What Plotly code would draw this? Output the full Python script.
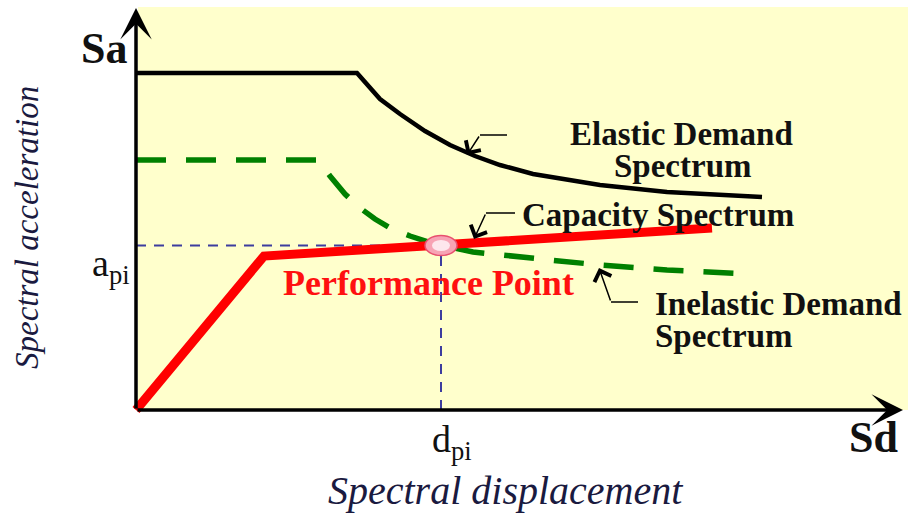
import plotly.graph_objects as go

# ---- data (Sd, Sa in arbitrary units) ----
elastic_sd = [0, 2.21, 2.44, 2.64, 2.89, 3.14, 3.39, 3.64, 3.97, 4.64, 5.31, 6.26]
elastic_sa = [3.37, 3.37, 3.11, 2.96, 2.79, 2.65, 2.54, 2.45, 2.36, 2.25, 2.18, 2.13]

inelastic_sd = [0, 1.82, 1.94, 2.09, 2.24, 2.39, 2.54, 2.74, 2.99, 3.37, 4.14, 4.64, 5.31, 6.14]
inelastic_sa = [2.50, 2.50, 2.34, 2.16, 2.02, 1.91, 1.82, 1.74, 1.66, 1.58, 1.50, 1.45, 1.40, 1.36]

capacity_sd = [0, 1.28, 5.76]
capacity_sa = [0, 1.54, 1.82]

perf_sd = 3.05
perf_sa = 1.645

axis_max_sd = 7.67
axis_max_sa = 4.02

FONT = "Liberation Serif, DejaVu Serif, serif"

fig = go.Figure()

# guide lines to performance point
fig.add_trace(go.Scatter(x=[0, perf_sd], y=[perf_sa, perf_sa], mode="lines",
                         line=dict(color="#3d3d9e", width=2, dash="10px,8px"), hoverinfo="skip"))
fig.add_trace(go.Scatter(x=[perf_sd, perf_sd], y=[0, perf_sa], mode="lines",
                         line=dict(color="#3d3d9e", width=2, dash="10px,8px"), hoverinfo="skip"))

fig.add_trace(go.Scatter(x=elastic_sd, y=elastic_sa, mode="lines",
                         line=dict(color="#000000", width=4.5), hoverinfo="skip"))
fig.add_trace(go.Scatter(x=inelastic_sd, y=inelastic_sa, mode="lines",
                         line=dict(color="#008000", width=5.5, dash="30px,20px"), hoverinfo="skip"))
fig.add_trace(go.Scatter(x=capacity_sd, y=capacity_sa, mode="lines",
                         line=dict(color="#ff0000", width=9), hoverinfo="skip"))

shapes = [
    dict(type="rect", xref="x", yref="y", x0=0.02, x1=7.75, y0=0, y1=4.03,
         fillcolor="#ffffcc", line=dict(width=0), layer="below"),
    # performance point
    dict(type="circle", xref="x", yref="y", x0=perf_sd - 0.16, x1=perf_sd + 0.16,
         y0=perf_sa - 0.10, y1=perf_sa + 0.10, fillcolor="#f7a3b4",
         line=dict(color="#e8506e", width=1.5)),
    dict(type="circle", xref="x", yref="y", x0=perf_sd - 0.09, x1=perf_sd + 0.09,
         y0=perf_sa - 0.055, y1=perf_sa + 0.055, fillcolor="#fde6ec",
         line=dict(width=0)),
    # callout horizontal segments
    dict(type="line", xref="x", yref="y", x0=3.71, x1=3.44, y0=2.75, y1=2.75,
         line=dict(color="#000", width=1.5)),
    dict(type="line", xref="x", yref="y", x0=3.79, x1=3.50, y0=1.97, y1=1.97,
         line=dict(color="#000", width=1.5)),
    dict(type="line", xref="x", yref="y", x0=5.02, x1=4.75, y0=1.08, y1=1.08,
         line=dict(color="#000", width=1.5)),
]

ann = []
# axes with arrowheads
ann.append(dict(x=0, y=axis_max_sa, ax=0, ay=0, xref="x", yref="y", axref="x", ayref="y",
                text="", showarrow=True, arrowhead=3, arrowwidth=3.5, arrowsize=1.5,
                arrowcolor="#000", standoff=0, startstandoff=0))
ann.append(dict(x=axis_max_sd, y=0, ax=0, ay=0, xref="x", yref="y", axref="x", ayref="y",
                text="", showarrow=True, arrowhead=3, arrowwidth=3.5, arrowsize=1.5,
                arrowcolor="#000", standoff=0, startstandoff=0))
# callout arrows
for tip, tail in [((3.31, 2.55), (3.44, 2.75)), ((3.38, 1.71), (3.50, 1.97)),
                  ((4.63, 1.42), (4.75, 1.08))]:
    ann.append(dict(x=tip[0], y=tip[1], ax=tail[0], ay=tail[1], xref="x", yref="y",
                    axref="x", ayref="y", text="", showarrow=True, arrowhead=4,
                    arrowwidth=1.5, arrowsize=2.3, arrowcolor="#000", standoff=0))

def label(x, y, text, size, color="#111", **kw):
    d = dict(x=x, y=y, xref="x", yref="y", text=text, showarrow=False,
             font=dict(family=FONT, size=size, color=color))
    d.update(kw)
    ann.append(d)

label(-0.32, 3.62, "<b>Sa</b>", 44)
label(7.37, -0.27, "<b>Sd</b>", 44)
label(-0.25, 1.44, "a<sub>pi</sub>", 38)
label(3.16, -0.32, "d<sub>pi</sub>", 38)
label(-1.09, 1.82, "<i>Spectral acceleration</i>", 33, color="#1a1a40", textangle=-90)
label(3.69, -0.80, "<i>Spectral displacement</i>", 40, color="#1a1a40")
label(2.92, 1.27, "<b>Performance Point</b>", 36, color="#ff1010")
label(5.22, 1.95, "<b>Capacity Spectrum</b>", 33)
label(5.45, 2.76, "<b>Elastic Demand</b>", 33)
label(5.46, 2.44, "<b>Spectrum</b>", 33)
label(5.17, 1.06, "<b>Inelastic Demand</b>", 33, xanchor="left")
label(5.17, 0.74, "<b>Spectrum</b>", 33, xanchor="left")

fig.update_layout(
    width=908, height=515,
    margin=dict(l=0, r=0, t=0, b=0),
    paper_bgcolor="white", plot_bgcolor="white",
    showlegend=False, hovermode=False,
    xaxis=dict(range=[-1.36, 7.72], visible=False, fixedrange=True),
    yaxis=dict(range=[-1.05, 4.10], visible=False, fixedrange=True),
    shapes=shapes, annotations=ann,
)

fig.write_html("out.html", config={"displayModeBar": False},
               post_script="document.body.style.margin='0';document.body.style.overflow='hidden';")
